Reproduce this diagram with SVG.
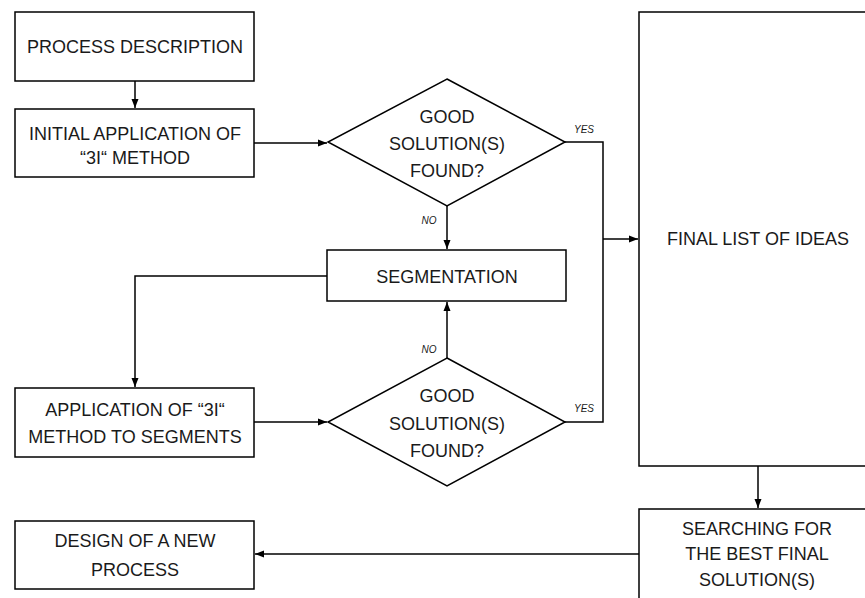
<svg xmlns="http://www.w3.org/2000/svg" width="865" height="598" viewBox="0 0 865 598">
<style>
.box{fill:#fff;stroke:#000;stroke-width:1.5}
.t{font-family:"Liberation Sans",Arial,sans-serif;font-size:18px;fill:#1a1a1a;text-anchor:middle}
.l{font-family:"Liberation Sans",Arial,sans-serif;font-size:10px;font-style:italic;fill:#1a1a1a;text-anchor:middle}
.c{fill:none;stroke:#000;stroke-width:1.5}
</style>
<defs>
<marker id="ah" markerWidth="10" markerHeight="8" refX="9" refY="4" orient="auto" markerUnits="userSpaceOnUse">
<path d="M0,0.5 L9,4 L0,7.5 Z" fill="#000"/>
</marker>
</defs>
<rect width="865" height="598" fill="#fff"/>
<g id="connectors">
<path class="c" d="M135,81 V108" marker-end="url(#ah)"/>
<path class="c" d="M254,143 H327" marker-end="url(#ah)"/>
<path class="c" d="M447,206 V249" marker-end="url(#ah)"/>
<path class="c" d="M565,142 H603 V422 H565"/>
<path class="c" d="M603,239 H638" marker-end="url(#ah)"/>
<path class="c" d="M327,276 H135 V387" marker-end="url(#ah)"/>
<path class="c" d="M254,422 H327" marker-end="url(#ah)"/>
<path class="c" d="M447,358 V302" marker-end="url(#ah)"/>
<path class="c" d="M758,466 V508" marker-end="url(#ah)"/>
<path class="c" d="M639,554 H255" marker-end="url(#ah)"/>
<text class="l" x="584" y="133">YES</text>
<text class="l" x="429" y="224">NO</text>
<text class="l" x="429" y="353">NO</text>
<text class="l" x="584" y="412">YES</text>
</g>
<g id="process-description">
<rect class="box" x="15" y="12" width="239" height="69"/>
<text class="t" x="135" y="53">PROCESS DESCRIPTION</text>
</g>
<g id="initial-application">
<rect class="box" x="15" y="109" width="239" height="68"/>
<text class="t" x="135" y="140">INITIAL APPLICATION OF</text>
<text class="t" x="135" y="164">“3I“ METHOD</text>
</g>
<g id="decision-1">
<polygon class="box" points="447,79 565,142 447,206 328,142"/>
<text class="t" x="447" y="123">GOOD</text>
<text class="t" x="447" y="150">SOLUTION(S)</text>
<text class="t" x="447" y="177">FOUND?</text>
</g>
<g id="segmentation">
<rect class="box" x="327" y="250" width="239" height="51"/>
<text class="t" x="447" y="283">SEGMENTATION</text>
</g>
<g id="application-segments">
<rect class="box" x="15" y="388" width="239" height="69"/>
<text class="t" x="135" y="416">APPLICATION OF “3I“</text>
<text class="t" x="135" y="443">METHOD TO SEGMENTS</text>
</g>
<g id="decision-2">
<polygon class="box" points="447,358 565,422 447,486 328,422"/>
<text class="t" x="447" y="402">GOOD</text>
<text class="t" x="447" y="430">SOLUTION(S)</text>
<text class="t" x="447" y="457">FOUND?</text>
</g>
<g id="final-list">
<rect class="box" x="639" y="12" width="240" height="454"/>
<text class="t" x="758" y="245">FINAL LIST OF IDEAS</text>
</g>
<g id="searching">
<rect class="box" x="639" y="509" width="240" height="100"/>
<text class="t" x="757" y="535">SEARCHING FOR</text>
<text class="t" x="757" y="560">THE BEST FINAL</text>
<text class="t" x="757" y="586">SOLUTION(S)</text>
</g>
<g id="design-new-process">
<rect class="box" x="15" y="521" width="239" height="68"/>
<text class="t" x="135" y="547">DESIGN OF A NEW</text>
<text class="t" x="135" y="576">PROCESS</text>
</g>
</svg>
